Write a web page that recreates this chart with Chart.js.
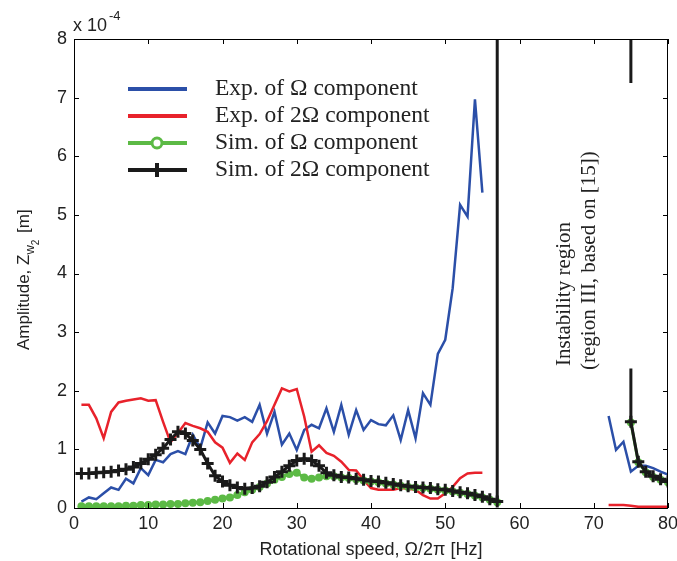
<!DOCTYPE html>
<html>
<head>
<meta charset="utf-8">
<script src="https://cdn.jsdelivr.net/npm/chart.js@4.4.0/dist/chart.umd.min.js"></script>
<style>
  html, body { margin: 0; padding: 0; background: #fff; }
</style>
</head>
<body>
<canvas id="ampChart" width="677" height="561"></canvas>
<script>
// measured frequencies [Hz]
const expFreq = [1,2,3,4,5,6,7,8,9,10,11,12,13,14,15,16,17,18,19,20,21,22,23,24,25,26,27,28,29,30,
  31,32,33,34,35,36,37,38,39,40,41,42,43,44,45,46,47,48,49,50,51,52,53,54,55];
const expTailFreq = [72,73,74,75,76,77,78,79,80];

// Exp. of Omega component (x 1e-4 m)
const expOmega = [0.11,0.18,0.15,0.25,0.35,0.31,0.50,0.42,0.68,0.56,0.82,0.78,0.92,0.97,0.92,1.25,1.02,1.46,1.27,1.57,
  1.55,1.49,1.55,1.47,1.76,1.27,1.64,1.08,1.27,0.99,1.33,1.42,1.36,1.70,1.30,1.76,1.25,1.67,1.33,1.50,
  1.43,1.41,1.58,1.16,1.67,1.19,1.96,1.76,2.63,2.87,3.75,5.17,4.97,6.97,5.38];
const expOmegaTail = [1.57,0.99,1.13,0.62,0.72,0.72,0.68,0.62,0.57];

// Exp. of 2 Omega component
const exp2Omega = [1.76,1.76,1.53,1.19,1.64,1.80,1.83,1.85,1.87,1.83,1.84,1.47,1.12,1.28,1.45,1.40,1.36,1.30,1.12,1.03,
  0.77,0.93,0.82,1.12,1.26,1.48,1.76,2.04,1.99,2.03,1.56,0.96,1.07,0.94,0.89,0.79,0.65,0.64,0.48,0.34,
  0.31,0.31,0.31,0.34,0.33,0.31,0.22,0.16,0.16,0.25,0.36,0.51,0.59,0.60,0.60];
const exp2OmegaTail = [0.05,0.05,0.05,0.04,0.02,0.02,0.02,0.02,0.02];

// simulation
const simFreq = [1,2,3,4,5,6,7,8,9,10,11,12,13,14,15,16,17,18,19,20,21,22,23,24,25,26,27,28,29,30,
  31,32,33,34,35,36,37,38,39,40,41,42,43,44,45,46,47,48,49,50,51,52,53,54,55,56,57];
const simTailFreq = [75,76,77,78,79,80];

const simOmega = [0.03,0.03,0.03,0.03,0.03,0.03,0.04,0.04,0.05,0.05,0.06,0.06,0.07,0.07,0.08,0.09,0.10,0.12,0.14,0.16,
  0.18,0.22,0.27,0.31,0.36,0.42,0.48,0.53,0.58,0.60,0.52,0.50,0.52,0.54,0.54,0.52,0.51,0.49,0.47,0.45,
  0.44,0.42,0.40,0.38,0.36,0.35,0.34,0.33,0.31,0.30,0.28,0.26,0.24,0.21,0.18,0.14,0.10];
const simOmegaTail = [1.46,0.78,0.61,0.53,0.48,0.44];

const sim2Omega = [0.59,0.59,0.60,0.61,0.62,0.64,0.66,0.70,0.76,0.83,0.91,1.02,1.17,1.30,1.27,1.15,1.00,0.76,0.55,0.45,
  0.39,0.35,0.33,0.34,0.37,0.44,0.53,0.62,0.72,0.81,0.84,0.81,0.72,0.60,0.56,0.53,0.52,0.50,0.48,0.46,
  0.45,0.43,0.41,0.39,0.37,0.36,0.35,0.34,0.32,0.31,0.29,0.27,0.25,0.22,0.19,0.15,0.11];
const sim2OmegaTail = [1.47,0.79,0.62,0.54,0.49,0.45];

// vertical lines of the simulated 2 Omega response at the instability limits
const limitX = [57, 57, null, 75, 75, null, 75, 75];
const limitY = [0.11, 8, null, 8, 7.25, null, 2.38, 1.47];

const xTicks = [0,10,20,30,40,50,60,70,80];
const yTicks = [0,1,2,3,4,5,6,7,8];

const legendLabels = ['Exp. of \u03A9 component', 'Exp. of 2\u03A9 component',
  'Sim. of \u03A9 component', 'Sim. of 2\u03A9 component'];

const BLUE = '#2b4fa8', RED = '#e8222b', GREEN = '#5cba45', BLACK = '#1a1a1a';

function pts(xs, ys) {
    return xs.map((v, i) => ({ x: v, y: ys[i] }));
}
function joined(xa, ya, xb, yb) {
    return pts(xa, ya).concat([{ x: (xa[xa.length - 1] + xb[0]) / 2, y: null }], pts(xb, yb));
}

const decor = {
    id: 'decor',
    afterDraw(chart) {
        const { ctx, chartArea: a, scales: { x, y } } = chart;
        ctx.save();
        ctx.strokeStyle = '#000';
        ctx.lineWidth = 1;
        ctx.strokeRect(a.left + 0.5, a.top + 0.5, a.right - a.left - 1, a.bottom - a.top);

        // MATLAB style inward ticks
        const len = 5;
        ctx.beginPath();
        xTicks.forEach(v => {
            const px = Math.round(x.getPixelForValue(v)) + 0.5;
            ctx.moveTo(px, a.bottom); ctx.lineTo(px, a.bottom - len);
            ctx.moveTo(px, a.top); ctx.lineTo(px, a.top + len);
        });
        yTicks.forEach(v => {
            const py = Math.round(y.getPixelForValue(v)) + 0.5;
            ctx.moveTo(a.left, py); ctx.lineTo(a.left + len, py);
            ctx.moveTo(a.right, py); ctx.lineTo(a.right - len, py);
        });
        ctx.stroke();

        // exponent
        ctx.fillStyle = '#222';
        ctx.textBaseline = 'alphabetic';
        ctx.textAlign = 'left';
        ctx.font = '18px "Liberation Sans"';
        ctx.fillText('x 10', 73, 31);
        ctx.font = '13px "Liberation Sans"';
        ctx.fillText('-4', 109, 20);

        // y axis title with subscripts
        ctx.save();
        ctx.translate(29, 350);
        ctx.rotate(-Math.PI / 2);
        ctx.font = '17px "Liberation Sans"';
        let t = 'Amplitude, Z';
        ctx.fillText(t, 0, 0);
        let off = ctx.measureText(t).width;
        ctx.font = '13px "Liberation Sans"';
        ctx.fillText('w', off, 5);
        off += ctx.measureText('w').width;
        ctx.font = '10px "Liberation Sans"';
        ctx.fillText('2', off, 10);
        off += ctx.measureText('2').width + 2;
        ctx.font = '17px "Liberation Sans"';
        ctx.fillText(' [m]', off, 0);
        ctx.restore();

        // instability annotation
        ctx.save();
        ctx.font = '21px "Liberation Serif"';
        ctx.translate(570, 366);
        ctx.rotate(-Math.PI / 2);
        ctx.fillText('Instability region', 0, 0);
        ctx.fillText('(region III, based on [15])', -4, 25);
        ctx.restore();

        // legend
        const rowY = [89, 116, 143, 170];
        const colors = [BLUE, RED, GREEN, BLACK];
        ctx.font = '23.5px "Liberation Serif"';
        ctx.textBaseline = 'middle';
        rowY.forEach((ry, i) => {
            ctx.strokeStyle = colors[i];
            ctx.lineWidth = 4;
            ctx.beginPath();
            ctx.moveTo(128, ry); ctx.lineTo(187, ry);
            ctx.stroke();
            if (i === 2) {
                ctx.fillStyle = '#fff';
                ctx.lineWidth = 3;
                ctx.beginPath();
                ctx.arc(157, ry, 5, 0, Math.PI * 2);
                ctx.fill(); ctx.stroke();
            }
            if (i === 3) {
                ctx.lineWidth = 4;
                ctx.beginPath();
                ctx.moveTo(157, ry - 7); ctx.lineTo(157, ry + 7);
                ctx.stroke();
            }
            ctx.fillStyle = '#222';
            ctx.fillText(legendLabels[i], 215, ry);
        });
        ctx.restore();
    }
};

new Chart(document.getElementById('ampChart'), {
    type: 'line',
    data: {
        datasets: [
            {
                label: legendLabels[3],
                data: joined(simFreq, sim2Omega, simTailFreq, sim2OmegaTail),
                borderColor: BLACK,
                borderWidth: 3,
                pointStyle: 'cross',
                pointRadius: 6,
                pointBorderWidth: 3,
                pointBorderColor: BLACK,
                order: 0
            },
            {
                label: 'limit',
                data: pts(limitX, limitY),
                borderColor: BLACK,
                borderWidth: 3,
                pointRadius: 0,
                order: 0
            },
            {
                label: legendLabels[2],
                data: joined(simFreq, simOmega, simTailFreq, simOmegaTail),
                borderColor: GREEN,
                backgroundColor: GREEN,
                borderWidth: 3,
                pointStyle: 'circle',
                pointRadius: 4,
                pointBorderWidth: 0,
                order: 1
            },
            {
                label: legendLabels[1],
                data: joined(expFreq, exp2Omega, expTailFreq, exp2OmegaTail),
                borderColor: RED,
                borderWidth: 2.5,
                pointRadius: 0,
                order: 2
            },
            {
                label: legendLabels[0],
                data: joined(expFreq, expOmega, expTailFreq, expOmegaTail),
                borderColor: BLUE,
                borderWidth: 2.5,
                pointRadius: 0,
                order: 3
            }
        ]
    },
    options: {
        responsive: false,
        devicePixelRatio: 1,
        animation: false,
        spanGaps: false,
        layout: { padding: { left: 0, top: 39, right: 7, bottom: 0 } },
        plugins: {
            legend: { display: false },
            tooltip: { enabled: false }
        },
        elements: { line: { tension: 0 } },
        scales: {
            x: {
                type: 'linear',
                min: 0, max: 80,
                grid: { display: false, drawTicks: false },
                border: { display: false },
                afterFit: s => { s.height = 53; s.paddingLeft = 0; s.paddingRight = 0; },
                afterBuildTicks: s => { s.ticks = xTicks.map(v => ({ value: v })); },
                ticks: {
                    padding: 5,
                    color: '#222',
                    font: { family: '"Liberation Sans"', size: 18 }
                },
                title: {
                    display: true,
                    text: 'Rotational speed, \u03A9/2\u03C0 [Hz]',
                    color: '#222',
                    padding: { top: 0, bottom: 0 },
                    font: { family: '"Liberation Sans"', size: 18 }
                }
            },
            y: {
                min: 0, max: 8,
                grid: { display: false, drawTicks: false },
                border: { display: false },
                afterFit: s => { s.width = 74; s.paddingTop = 0; s.paddingBottom = 0; },
                afterBuildTicks: s => { s.ticks = yTicks.map(v => ({ value: v })); },
                ticks: {
                    padding: 7,
                    color: '#222',
                    font: { family: '"Liberation Sans"', size: 18 }
                }
            }
        }
    },
    plugins: [decor]
});
</script>
</body>
</html>
